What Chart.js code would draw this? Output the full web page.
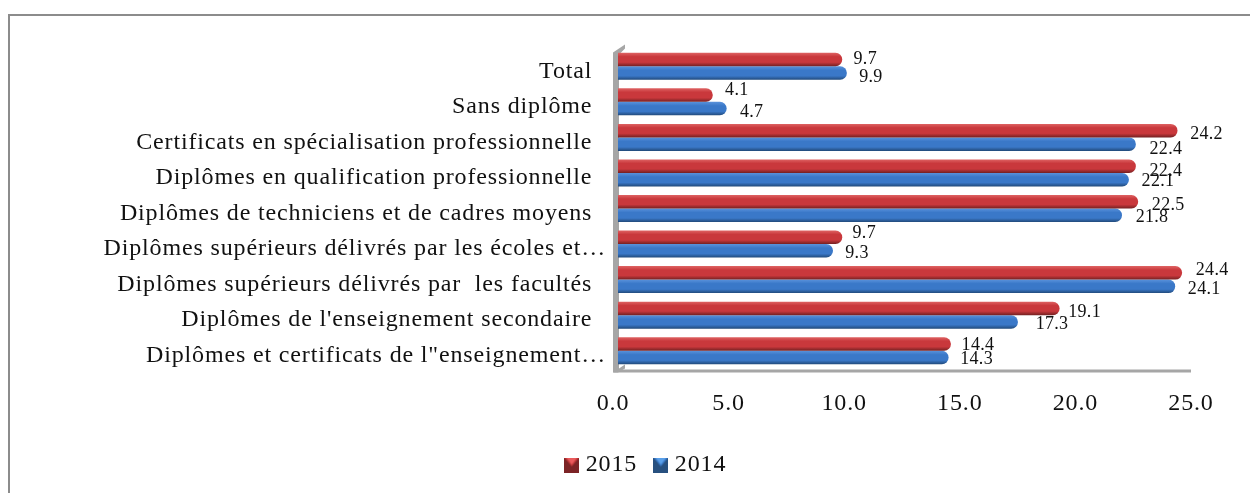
<!DOCTYPE html>
<html>
<head>
<meta charset="utf-8">
<style>
  html, body { margin: 0; padding: 0; background: #fff; }
  #wrap { position: relative; width: 1250px; height: 493px; overflow: hidden; }
  #frame { position: absolute; left: 8px; top: 14px; width: 1250px; height: 500px; border: 2px solid #8c8c8c; box-sizing: border-box; }
  canvas { position: absolute; left: 0; top: 0; }
</style>
<script src="https://cdn.jsdelivr.net/npm/chart.js@4"></script>
</head>
<body>
<div id="wrap">
  <div id="frame"></div>
  <canvas id="myChart" width="1250" height="493"></canvas>
</div>
<script>
"use strict";

const categories = [
  "Total  ",
  "Sans diplôme  ",
  "Certificats en spécialisation professionnelle  ",
  "Diplômes en qualification professionnelle  ",
  "Diplômes de techniciens et de cadres moyens  ",
  "Diplômes supérieurs délivrés par les écoles et…",
  "Diplômes supérieurs délivrés par  les facultés  ",
  "Diplômes de l'enseignement secondaire  ",
  "Diplômes et certificats de l\"enseignement…",
];
const seriesNames = ["2015  ", "2014"];
const values2015 = [9.7, 4.1, 24.2, 22.4, 22.5, 9.7, 24.4, 19.1, 14.4];
const values2014 = [9.9, 4.7, 22.4, 22.1, 21.8, 9.3, 24.1, 17.3, 14.3];
const xTicks = [0, 5, 10, 15, 20, 25];

// value labels do not sit at a fixed place in the original, so each gets a nudge from the bar end
const nudge2015 = [[23, 0], [24, -5], [29, 4], [30, 5], [30, 4], [22, -4], [30, -3], [25, 4], [27, 1]];
const nudge2014 = [[24, 4], [25, 4], [30, 5], [29, 2], [30, 2], [24, 2], [29, 3], [34, 2], [28, 2]];

const fontName = "'Liberation Serif'";
const textSpacing = "0.85px";

function barGradient(context, top, mid, bottom, offset) {
  const chart = context.chart;
  const yScale = chart.scales.y;
  if (!yScale) return mid;
  const center = yScale.getPixelForValue(context.dataIndex) + offset;
  if (!isFinite(center)) return mid;
  const g = chart.ctx.createLinearGradient(0, center - 7, 0, center + 7);
  g.addColorStop(0, top);
  g.addColorStop(0.3, mid);
  g.addColorStop(0.7, mid);
  g.addColorStop(1, bottom);
  return g;
}

function legendSwatch(light, mid, dark) {
  const c = document.createElement("canvas");
  c.width = 15;
  c.height = 15;
  const x = c.getContext("2d");
  x.fillStyle = mid;
  x.fillRect(0, 0, 15, 15);
  x.fillStyle = dark;
  x.beginPath();
  x.moveTo(0, 15); x.lineTo(15, 15); x.lineTo(15, 0); x.lineTo(7.5, 9); x.lineTo(0, 0);
  x.fill();
  x.fillStyle = light;
  x.beginPath();
  x.moveTo(2, 0); x.lineTo(13, 0); x.lineTo(7.5, 7);
  x.fill();
  return c;
}

// 3D wall and floor of the original chart, behind the bars
const wallPlugin = {
  id: "wall",
  beforeDatasetsDraw(chart) {
    const ctx = chart.ctx;
    const a = chart.chartArea;
    const left = a.left - 5;
    const bottom = a.bottom + 4;
    ctx.save();
    ctx.fillStyle = "#a6a6a6";
    ctx.beginPath();
    ctx.moveTo(left, a.top + 4);
    ctx.lineTo(left + 12, a.top - 4);
    ctx.lineTo(left + 12, a.top);
    ctx.lineTo(left + 6, a.top + 6);
    ctx.lineTo(left + 6, bottom - 3);
    ctx.lineTo(a.right - 5, bottom - 3);
    ctx.lineTo(a.right - 5, bottom);
    ctx.lineTo(left, bottom);
    ctx.closePath();
    ctx.fill();
    ctx.beginPath();
    ctx.moveTo(left, bottom);
    ctx.lineTo(left + 12, bottom - 8);
    ctx.lineTo(left + 12, bottom - 4);
    ctx.lineTo(left + 5, bottom);
    ctx.closePath();
    ctx.fill();
    ctx.restore();
  },
};

// value labels, written next to the end of each bar
const valueLabels = {
  id: "valueLabels",
  afterDatasetsDraw(chart) {
    const ctx = chart.ctx;
    const nudges = [nudge2015, nudge2014];
    ctx.save();
    ctx.font = "18px " + fontName;
    ctx.letterSpacing = "0.3px";
    ctx.fillStyle = "#111";
    ctx.textAlign = "center";
    ctx.textBaseline = "middle";
    chart.data.datasets.forEach((ds, i) => {
      chart.getDatasetMeta(i).data.forEach((bar, j) => {
        const n = nudges[i][j];
        ctx.fillText(ds.data[j].toFixed(1), bar.x + n[0], bar.y + n[1]);
      });
    });
    ctx.restore();
  },
};

const spacingPlugin = {
  id: "spacing",
  beforeLayout(chart) { chart.ctx.letterSpacing = textSpacing; },
  // the legend sits right of the page centre in the original
  afterLayout(chart) {
    chart.legend.left += 50;
    chart.legend.right += 50;
  },
  beforeDraw(chart) { chart.ctx.letterSpacing = textSpacing; },
};

new Chart("myChart", {
  type: "bar",
  data: {
    labels: categories,
    datasets: [
      {
        label: seriesNames[0],
        data: values2015,
        backgroundColor: (c) => barGradient(c, "#e06666", "#c9383c", "#6f1f20", -6.8),
        borderRadius: { topRight: 7, bottomRight: 7 },
        borderSkipped: false,
        pointStyle: legendSwatch("#ea5a5c", "#c0383a", "#7c2426"),
      },
      {
        label: seriesNames[1],
        data: values2014,
        backgroundColor: (c) => barGradient(c, "#5b93dc", "#3a78c8", "#1f4674", 6.8),
        borderRadius: { topRight: 7, bottomRight: 7 },
        borderSkipped: false,
        pointStyle: legendSwatch("#5aa0ea", "#3a78c4", "#27507f"),
      },
    ],
  },
  options: {
    indexAxis: "y",
    responsive: false,
    animation: false,
    categoryPercentage: 0.76,
    barPercentage: 1,
    layout: { padding: { left: 0, right: 54, top: 48.5, bottom: 6 } },
    scales: {
      x: {
        min: 0,
        max: 25,
        grid: { display: false },
        border: { display: false },
        afterBuildTicks(scale) {
          scale.ticks = xTicks.map((v) => ({ value: v }));
        },
        afterFit(scale) { scale.height = 76.5; },
        ticks: {
          color: "#111",
          font: { family: fontName, size: 24 },
          padding: 13,
          labelOffset: -5,
          maxRotation: 0,
          callback: (v) => v.toFixed(1),
        },
      },
      y: {
        grid: { display: false },
        border: { display: false },
        afterFit(scale) { scale.width = 618; },
        ticks: {
          color: "#111",
          font: { family: fontName, size: 24 },
          padding: 4,
          labelOffset: 5,
          autoSkip: false,
        },
      },
    },
    plugins: {
      tooltip: { enabled: false },
      legend: {
        position: "bottom",
        labels: {
          color: "#111",
          font: { family: fontName, size: 24 },
          usePointStyle: true,
          pointStyleWidth: 4,
          padding: 8,
        },
      },
    },
  },
  plugins: [spacingPlugin, wallPlugin, valueLabels],
});
</script>
</body>
</html>
